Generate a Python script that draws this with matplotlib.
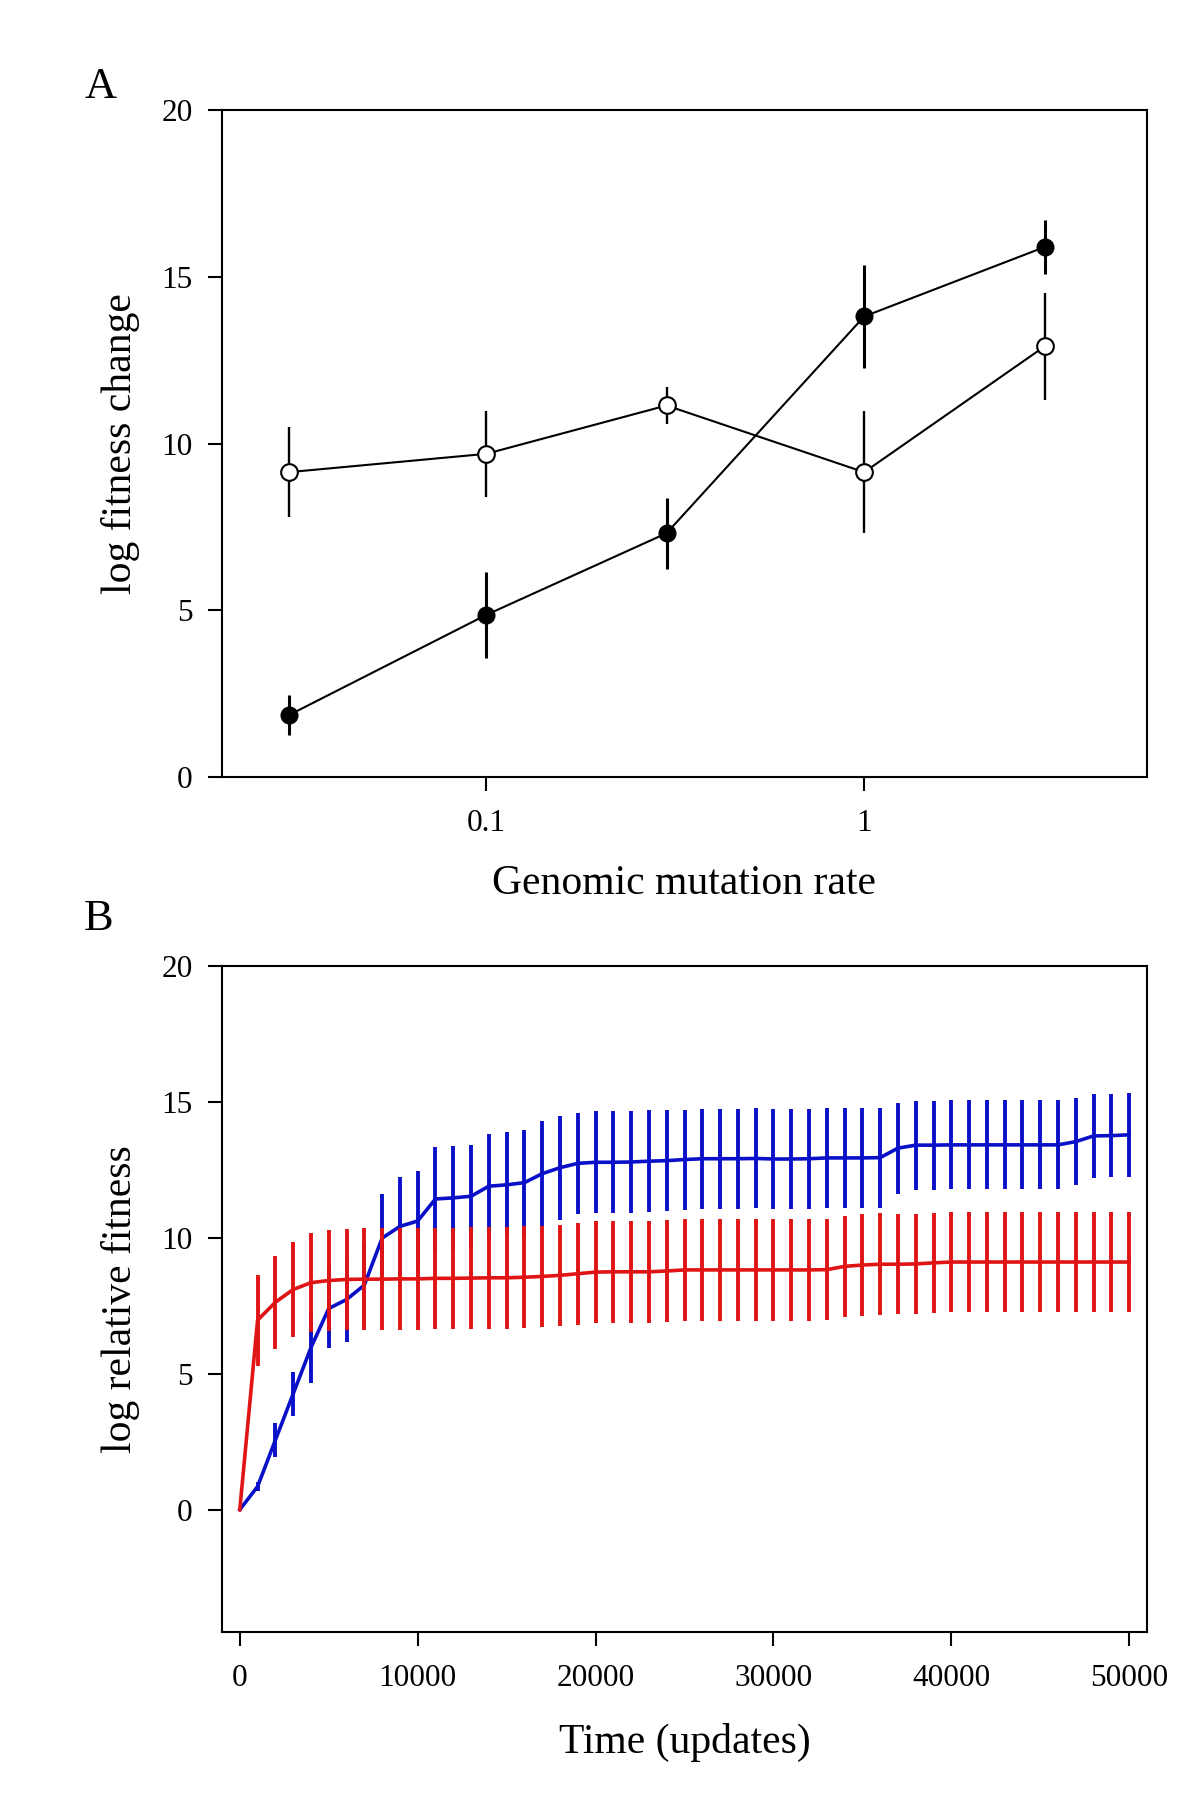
import matplotlib
matplotlib.use("Agg")
import matplotlib.pyplot as plt
import numpy as np

plt.rcParams['font.family'] = ['Liberation Serif', 'DejaVu Serif']

# ---------------- Panel A data ----------------
mut_rate = [0.03, 0.1, 0.3, 1, 3]
filled_vals = [1.85, 4.86, 7.31, 13.81, 15.89]
filled_err = [0.60, 1.30, 1.07, 1.54, 0.82]
open_vals = [9.14, 9.69, 11.14, 9.14, 12.91]
open_err = [1.34, 1.28, 0.55, 1.82, 1.60]
a_xticks = [0.1, 1]
a_xticklabels = ["0.1", "1"]
a_yticks = [0, 5, 10, 15, 20]

# ---------------- Panel B data ----------------
time_updates = [0, 1000, 2000, 3000, 4000, 5000, 6000, 7000, 8000, 9000,
                10000, 11000, 12000, 13000, 14000, 15000, 16000, 17000, 18000, 19000,
                20000, 21000, 22000, 23000, 24000, 25000, 26000, 27000, 28000, 29000,
                30000, 31000, 32000, 33000, 34000, 35000, 36000, 37000, 38000, 39000,
                40000, 41000, 42000, 43000, 44000, 45000, 46000, 47000, 48000, 49000,
                50000]
blue_vals = [0.00, 0.85, 2.56, 4.26, 5.96, 7.40, 7.73, 8.26, 9.99, 10.42,
             10.62, 11.43, 11.47, 11.53, 11.90, 11.95, 12.03, 12.36, 12.58, 12.74,
             12.78, 12.78, 12.79, 12.82, 12.84, 12.88, 12.91, 12.91, 12.91, 12.92,
             12.90, 12.90, 12.91, 12.94, 12.94, 12.94, 12.95, 13.30, 13.41, 13.41,
             13.42, 13.42, 13.42, 13.42, 13.42, 13.42, 13.42, 13.54, 13.75, 13.76,
             13.79]
blue_err = [0.00, 0.15, 0.64, 0.82, 1.31, 1.44, 1.55, 1.55, 1.64, 1.80,
            1.83, 1.90, 1.90, 1.89, 1.91, 1.93, 1.95, 1.93, 1.92, 1.87,
            1.87, 1.87, 1.87, 1.88, 1.85, 1.84, 1.84, 1.84, 1.84, 1.84,
            1.84, 1.84, 1.84, 1.84, 1.84, 1.84, 1.84, 1.67, 1.64, 1.64,
            1.64, 1.64, 1.64, 1.64, 1.64, 1.64, 1.64, 1.60, 1.54, 1.54,
            1.54]
red_vals = [0.00, 6.97, 7.63, 8.10, 8.35, 8.43, 8.47, 8.48, 8.48, 8.49,
            8.49, 8.51, 8.51, 8.52, 8.53, 8.53, 8.55, 8.58, 8.62, 8.68,
            8.74, 8.75, 8.75, 8.75, 8.78, 8.82, 8.82, 8.82, 8.82, 8.82,
            8.82, 8.82, 8.82, 8.83, 8.95, 9.00, 9.03, 9.03, 9.04, 9.08,
            9.11, 9.11, 9.11, 9.11, 9.11, 9.11, 9.11, 9.11, 9.11, 9.11,
            9.11]
red_err = [0.00, 1.67, 1.72, 1.75, 1.83, 1.86, 1.87, 1.87, 1.87, 1.87,
           1.87, 1.87, 1.87, 1.87, 1.87, 1.87, 1.87, 1.87, 1.87, 1.87,
           1.87, 1.87, 1.87, 1.87, 1.87, 1.87, 1.87, 1.87, 1.87, 1.87,
           1.87, 1.87, 1.87, 1.87, 1.87, 1.87, 1.87, 1.85, 1.85, 1.85,
           1.85, 1.85, 1.85, 1.85, 1.85, 1.85, 1.85, 1.85, 1.85, 1.85,
           1.85]
b_xticks = [0, 10000, 20000, 30000, 40000, 50000]
b_yticks = [0, 5, 10, 15, 20]

W, H = 1200, 1801
fig = plt.figure(figsize=(W / 100, H / 100), dpi=100)

def frac_axes(left, top, right, bottom):
    return fig.add_axes([left / W, 1 - bottom / H, (right - left) / W, (bottom - top) / H])

TICK_FS = 22.5
LABEL_FS = 30

def style(ax):
    for s in ax.spines.values():
        s.set_linewidth(1.5)
        s.set_color('black')
    ax.tick_params(direction='out', length=10, width=1.5, labelsize=TICK_FS,
                   top=False, right=False, pad=11)
    ax.tick_params(axis='x', pad=13)
    ax.minorticks_off()

# ---------------- Panel A ----------------
axA = frac_axes(222, 110, 1147, 777)
axA.set_xscale('log')
axA.errorbar(mut_rate, filled_vals, yerr=filled_err, color='black', lw=1.5,
             elinewidth=2.2, capsize=0, marker='o', ms=12, mfc='black', mec='black', zorder=3)
axA.errorbar(mut_rate, open_vals, yerr=open_err, color='black', lw=1.5,
             elinewidth=1.7, capsize=0, marker='o', ms=12, mfc='white', mec='black',
             mew=1.5, zorder=3)
axA.set_xlim(0.02, 5.6)
axA.set_ylim(0, 20)
axA.set_xticks(a_xticks)
axA.set_xticklabels(a_xticklabels)
axA.set_yticks(a_yticks)
style(axA)
axA.set_xlabel("Genomic mutation rate", fontsize=LABEL_FS)
axA.set_ylabel("log fitness change", fontsize=LABEL_FS)
axA.xaxis.label.set_va('center')
axA.yaxis.label.set_va('center')
axA.xaxis.set_label_coords(0.5, -(884 - 777) / 667)
axA.yaxis.set_label_coords(-(222 - 121) / 925, 0.5)

# ---------------- Panel B ----------------
axB = frac_axes(222, 966, 1147, 1632)
blue = '#0a10c8'
red = '#e01414'
axB.errorbar(time_updates, blue_vals, yerr=blue_err, color=blue, lw=2.6,
             elinewidth=2.8, capsize=0, zorder=2)
axB.errorbar(time_updates, red_vals, yerr=red_err, color=red, lw=2.6,
             elinewidth=2.8, capsize=0, zorder=3)
axB.set_xlim(-1000, 51000)
axB.set_ylim(-4.5, 20)
axB.set_xticks(b_xticks)
axB.set_xticklabels([str(v) for v in b_xticks])
axB.set_yticks(b_yticks)
style(axB)
axB.set_xlabel("Time (updates)", fontsize=LABEL_FS)
axB.set_ylabel("log relative fitness", fontsize=LABEL_FS)
axB.xaxis.label.set_va('center')
axB.yaxis.label.set_va('center')
axB.xaxis.set_label_coords(0.5, -(1742 - 1632) / 666)
axB.yaxis.set_label_coords(-(222 - 121) / 925, 0.5)

# Panel letters
fig.text(101 / W, 1 - 87 / H, "A", fontsize=32, ha='center', va='center')
fig.text(99 / W, 1 - 919 / H, "B", fontsize=32, ha='center', va='center')

fig.savefig("out.png", dpi=100)
